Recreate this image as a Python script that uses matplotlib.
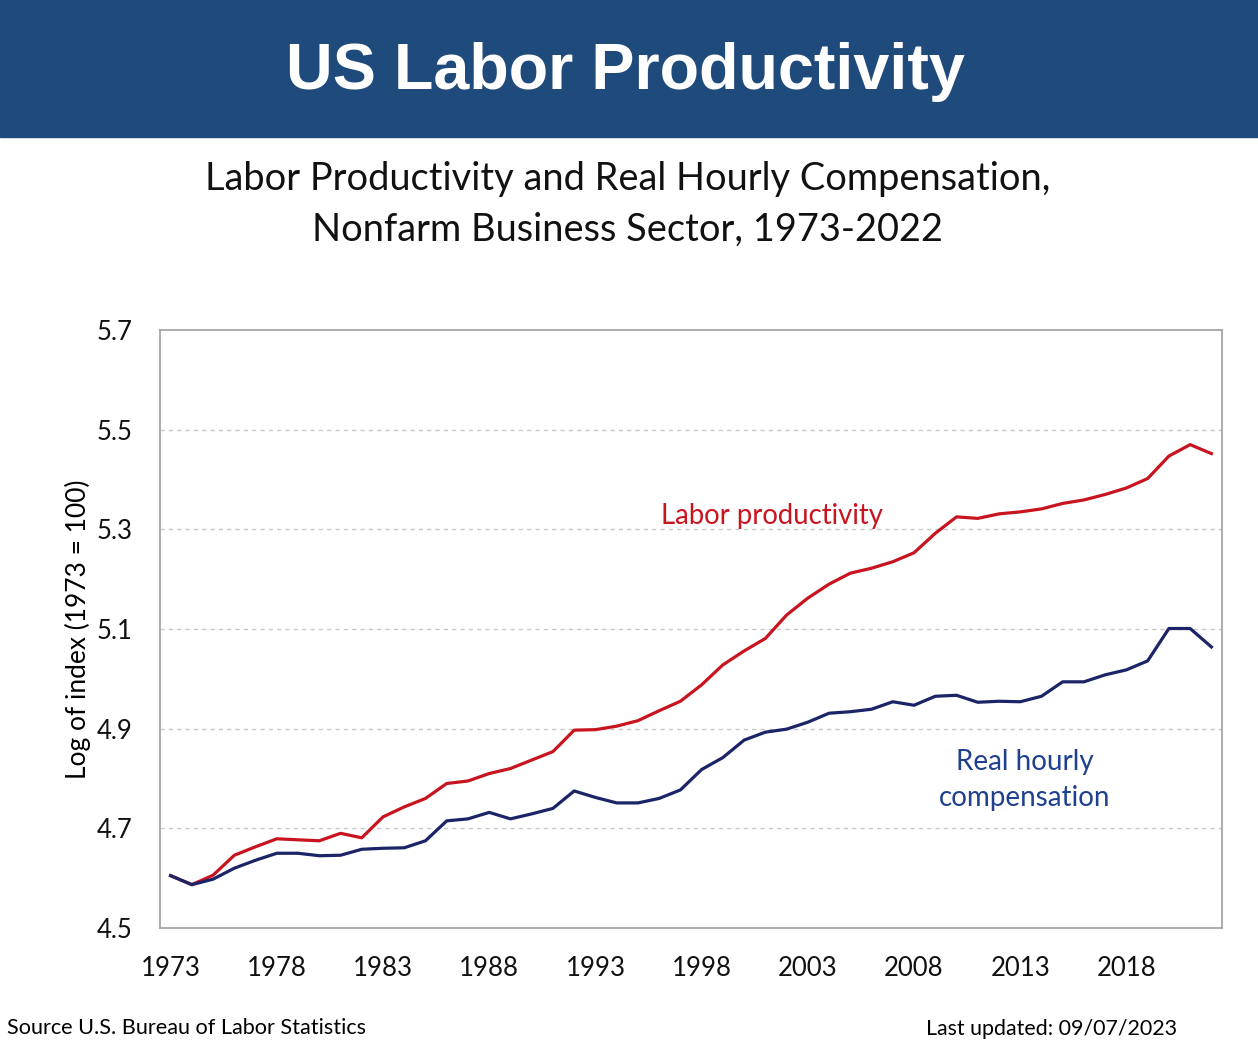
import matplotlib
matplotlib.use('Agg')
import matplotlib.pyplot as plt

# data (log of index, 1973 = 100)
years = list(range(1973, 2023))
productivity = [4.605, 4.587, 4.606, 4.646, 4.663, 4.679, 4.677, 4.675, 4.690, 4.681,
                4.723, 4.743, 4.760, 4.790, 4.795, 4.810, 4.820, 4.837, 4.854, 4.897,
                4.898, 4.905, 4.916, 4.936, 4.955, 4.988, 5.028, 5.056, 5.081, 5.128,
                5.162, 5.190, 5.212, 5.222, 5.235, 5.253, 5.292, 5.325, 5.322, 5.331,
                5.335, 5.341, 5.352, 5.359, 5.370, 5.383, 5.402, 5.447, 5.470, 5.452]
compensation = [4.605, 4.587, 4.598, 4.620, 4.636, 4.650, 4.650, 4.645, 4.646, 4.658,
                4.660, 4.661, 4.675, 4.715, 4.719, 4.732, 4.719, 4.729, 4.740, 4.775,
                4.762, 4.751, 4.751, 4.760, 4.777, 4.818, 4.842, 4.877, 4.893, 4.899,
                4.913, 4.931, 4.934, 4.939, 4.954, 4.947, 4.965, 4.967, 4.953, 4.955,
                4.954, 4.965, 4.994, 4.994, 5.008, 5.018, 5.036, 5.101, 5.101, 5.064]
xtick_years = [1973, 1978, 1983, 1988, 1993, 1998, 2003, 2008, 2013, 2018]
yticks = [4.5, 4.7, 4.9, 5.1, 5.3, 5.5, 5.7]

RED = '#C8141E'
NAVY = '#1C2468'
BANNER = '#1F4B7C'
body = ['Lato', 'DejaVu Sans']

fig = plt.figure(figsize=(12.58, 10.55), dpi=100)

# header banner
fig.patches.append(plt.Rectangle((0, 1 - 137 / 1055), 1, 137 / 1055,
                                 transform=fig.transFigure, color=BANNER, zorder=0))
fig.text(0.497, 1 - 72 / 1055, 'US Labor Productivity', color='white',
         fontsize=46.5, fontweight='bold', family='Liberation Sans',
         ha='center', va='center')

fig.text(0.499, 1 - 179 / 1055, 'Labor Productivity and Real Hourly Compensation,',
         fontsize=27.4, family=body, ha='center', va='center', color='#111111')
fig.text(0.499, 1 - 230 / 1055, 'Nonfarm Business Sector, 1973-2022',
         fontsize=27.4, family=body, ha='center', va='center', color='#111111')

ax = fig.add_axes([160 / 1258, 1 - 928 / 1055, (1222 - 160) / 1258, (928 - 330) / 1055])
ax.plot(years, productivity, color=RED, lw=2.3, zorder=3)
ax.plot(years, compensation, color=NAVY, lw=2.3, zorder=4)

ax.set_xlim(1972.5, 2022.5)
ax.set_ylim(4.5, 5.7)
ax.set_xticks(xtick_years)
ax.set_yticks(yticks)
ax.set_yticklabels(['%.1f' % v for v in yticks])
ax.tick_params(length=0, labelsize=18.5)
ax.tick_params(axis='x', pad=20)
ax.tick_params(axis='y', pad=20)
for lbl in ax.get_xticklabels() + ax.get_yticklabels():
    lbl.set_family(body)
    lbl.set_color('#111111')
for y in yticks[1:-1]:
    ax.axhline(y, color='#C8C8C8', lw=1, ls=(0, (3, 3)), zorder=1)
for s in ax.spines.values():
    s.set_color('#A6A6A6')
    s.set_linewidth(1.3)

ax.set_ylabel('Log of index (1973 = 100)', fontsize=19, family=body, labelpad=4)

ax.text(2001.3, 5.326, 'Labor productivity', color=RED, fontsize=19.8,
        family=body, ha='center', va='center')
ax.text(2013.2, 4.797, 'Real hourly\ncompensation', color='#1F3F8F', fontsize=20,
        family=body, ha='center', va='center', linespacing=1.45)

fig.text(7 / 1258, 1 - 1028 / 1055, 'Source U.S. Bureau of Labor Statistics',
         fontsize=15.6, family=body, ha='left', va='center')
fig.text(1177 / 1258, 1 - 1029 / 1055, 'Last updated: 09/07/2023',
         fontsize=15.4, family=body, ha='right', va='center')

fig.savefig('out.png', dpi=100, facecolor='white')
